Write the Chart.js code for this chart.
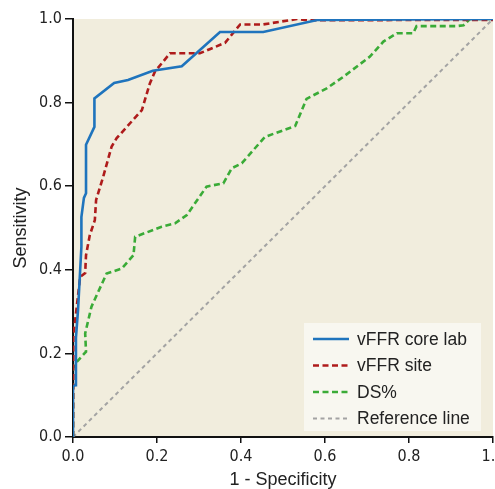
<!DOCTYPE html>
<html>
<head>
<meta charset="utf-8">
<script src="https://cdn.jsdelivr.net/npm/chart.js@4"></script>
<style>
  html, body { margin: 0; padding: 0; background: #fff; overflow: hidden; }
  .chart-box { position: relative; width: 495px; height: 489px; }
</style>
</head>
<body>
<div class="chart-box"><canvas id="rocChart"></canvas></div>
<script>
// ROC curve points (1 - specificity, sensitivity)
const coreLabFpr = [0, 0, 0.005, 0.007, 0.012, 0.02, 0.02, 0.026, 0.031, 0.031, 0.051, 0.051, 0.098, 0.131, 0.19, 0.259, 0.35, 0.453, 0.584, 1.0];
const coreLabTpr = [0, 0.12, 0.124, 0.237, 0.304, 0.455, 0.526, 0.572, 0.583, 0.699, 0.742, 0.81, 0.847, 0.854, 0.876, 0.887, 0.969, 0.969, 0.998, 1.0];

const siteFpr = [0, 0.001, 0.009, 0.017, 0.029, 0.031, 0.04, 0.052, 0.055, 0.072, 0.092, 0.104, 0.164, 0.183, 0.195, 0.231, 0.302, 0.362, 0.398, 0.453, 0.533, 0.56, 1.0];
const siteTpr = [0, 0.244, 0.312, 0.383, 0.392, 0.435, 0.483, 0.519, 0.567, 0.623, 0.695, 0.715, 0.782, 0.846, 0.874, 0.918, 0.918, 0.943, 0.987, 0.987, 1.0, 0.997, 0.998];

const dsFpr = [0, 0, 0.009, 0.031, 0.029, 0.044, 0.08, 0.116, 0.144, 0.148, 0.211, 0.243, 0.271, 0.318, 0.358, 0.378, 0.402, 0.457, 0.529, 0.556, 0.604, 0.644, 0.707, 0.739, 0.771, 0.81, 0.818, 0.914, 0.93, 0.945, 1.0];
const dsTpr = [0, 0.164, 0.18, 0.204, 0.248, 0.312, 0.391, 0.403, 0.435, 0.479, 0.503, 0.511, 0.531, 0.599, 0.607, 0.643, 0.655, 0.718, 0.744, 0.809, 0.834, 0.862, 0.91, 0.946, 0.966, 0.966, 0.983, 0.983, 0.985, 1.0, 1.0];

const refFpr = [0, 1];
const refTpr = [0, 1];

const seriesLabels = ["vFFR core lab", "vFFR site", "DS%", "Reference line"];
const xTicks = [0, 0.2, 0.4, 0.6, 0.8, 1.0];
const yTicks = [0, 0.2, 0.4, 0.6, 0.8, 1.0];

const tickFont = "'Liberation Sans Narrow', 'DejaVu Sans Condensed', 'Liberation Sans', sans-serif";
const textFont = "'Liberation Sans', Arial, sans-serif";

function toPoints(xs, ys) {
  return xs.map((x, i) => ({ x: x, y: ys[i] }));
}

function makeDataset(label, xs, ys, color, dash, width) {
  return {
    label: label,
    data: toPoints(xs, ys),
    borderColor: color,
    backgroundColor: color,
    borderWidth: width,
    borderDash: dash,
    pointRadius: 0,
    tension: 0,
    fill: false,
    showLine: true
  };
}

// beige plot background
const plotBackground = {
  id: 'plotBackground',
  beforeDraw(chart) {
    const { ctx, chartArea } = chart;
    ctx.save();
    ctx.fillStyle = '#f1eddd';
    ctx.fillRect(chartArea.left, chartArea.top, chartArea.right - chartArea.left, chartArea.bottom - chartArea.top);
    ctx.restore();
  }
};

// legend box in the lower right of the plot
const insideLegend = {
  id: 'insideLegend',
  afterDatasetsDraw(chart) {
    const { ctx, chartArea } = chart;
    const boxW = 177, boxH = 108;
    const left = chartArea.right - 12 - boxW;
    const top = chartArea.bottom - 6 - boxH;
    ctx.save();
    ctx.fillStyle = '#f8f7f0';
    ctx.fillRect(left, top, boxW, boxH);
    ctx.font = "17.5px " + textFont;
    ctx.textBaseline = 'middle';
    ctx.fillStyle = '#222';
    chart.data.datasets.forEach((ds, i) => {
      const y = top + 16 + i * 26.5;
      ctx.beginPath();
      ctx.strokeStyle = ds.borderColor;
      ctx.lineWidth = ds.borderWidth;
      ctx.setLineDash(ds.borderDash || []);
      ctx.moveTo(left + 9, y);
      ctx.lineTo(left + 45, y);
      ctx.stroke();
      ctx.setLineDash([]);
      ctx.fillText(ds.label, left + 53, y + 1);
    });
    ctx.restore();
  }
};

const ctx = document.getElementById('rocChart');

new Chart(ctx, {
  type: 'scatter',
  data: {
    datasets: [
      makeDataset(seriesLabels[0], coreLabFpr, coreLabTpr, '#1f74bd', [], 2.6),
      makeDataset(seriesLabels[1], siteFpr, siteTpr, '#ae1b1b', [6, 3.5], 2.6),
      makeDataset(seriesLabels[2], dsFpr, dsTpr, '#3aab37', [6, 3.5], 2.6),
      makeDataset(seriesLabels[3], refFpr, refTpr, '#a3a3a3', [4, 3.5], 2)
    ]
  },
  options: {
    responsive: true,
    maintainAspectRatio: false,
    animation: false,
    layout: { padding: { top: 19, right: 2, left: 0, bottom: 0 } },
    plugins: {
      legend: { display: false },
      tooltip: { enabled: false }
    },
    scales: {
      x: {
        type: 'linear',
        min: 0,
        max: 1,
        afterBuildTicks(scale) { scale.ticks = xTicks.map(v => ({ value: v })); },
        afterFit(scale) {
          scale.height = 52;
          scale.paddingLeft = 0;
          scale.paddingRight = 0;
        },
        grid: { drawOnChartArea: false, drawTicks: true, tickLength: 6, color: '#111', lineWidth: 1.5 },
        border: { display: true, color: '#111', width: 2 },
        ticks: {
          padding: 4,
          color: '#222',
          maxRotation: 0,
          font: { family: tickFont, size: 16 },
          callback: v => v.toFixed(1)
        },
        title: {
          display: true,
          text: '1 - Specificity',
          color: '#222',
          font: { family: textFont, size: 18, lineHeight: 1 },
          padding: { top: 0, bottom: 0 }
        }
      },
      y: {
        type: 'linear',
        min: 0,
        max: 1,
        afterBuildTicks(scale) { scale.ticks = yTicks.map(v => ({ value: v })); },
        afterFit(scale) {
          scale.width = 73;
          scale.paddingTop = 0;
          scale.paddingBottom = 0;
        },
        grid: { drawOnChartArea: false, drawTicks: true, tickLength: 8, color: '#111', lineWidth: 1.5 },
        border: { display: true, color: '#111', width: 2 },
        ticks: {
          padding: 3,
          color: '#222',
          font: { family: tickFont, size: 16 },
          callback: v => v.toFixed(1)
        },
        title: {
          display: true,
          text: 'Sensitivity',
          color: '#222',
          font: { family: textFont, size: 18 },
          padding: { top: 10, bottom: 0 }
        }
      }
    }
  },
  plugins: [plotBackground, insideLegend]
});
</script>
</body>
</html>
